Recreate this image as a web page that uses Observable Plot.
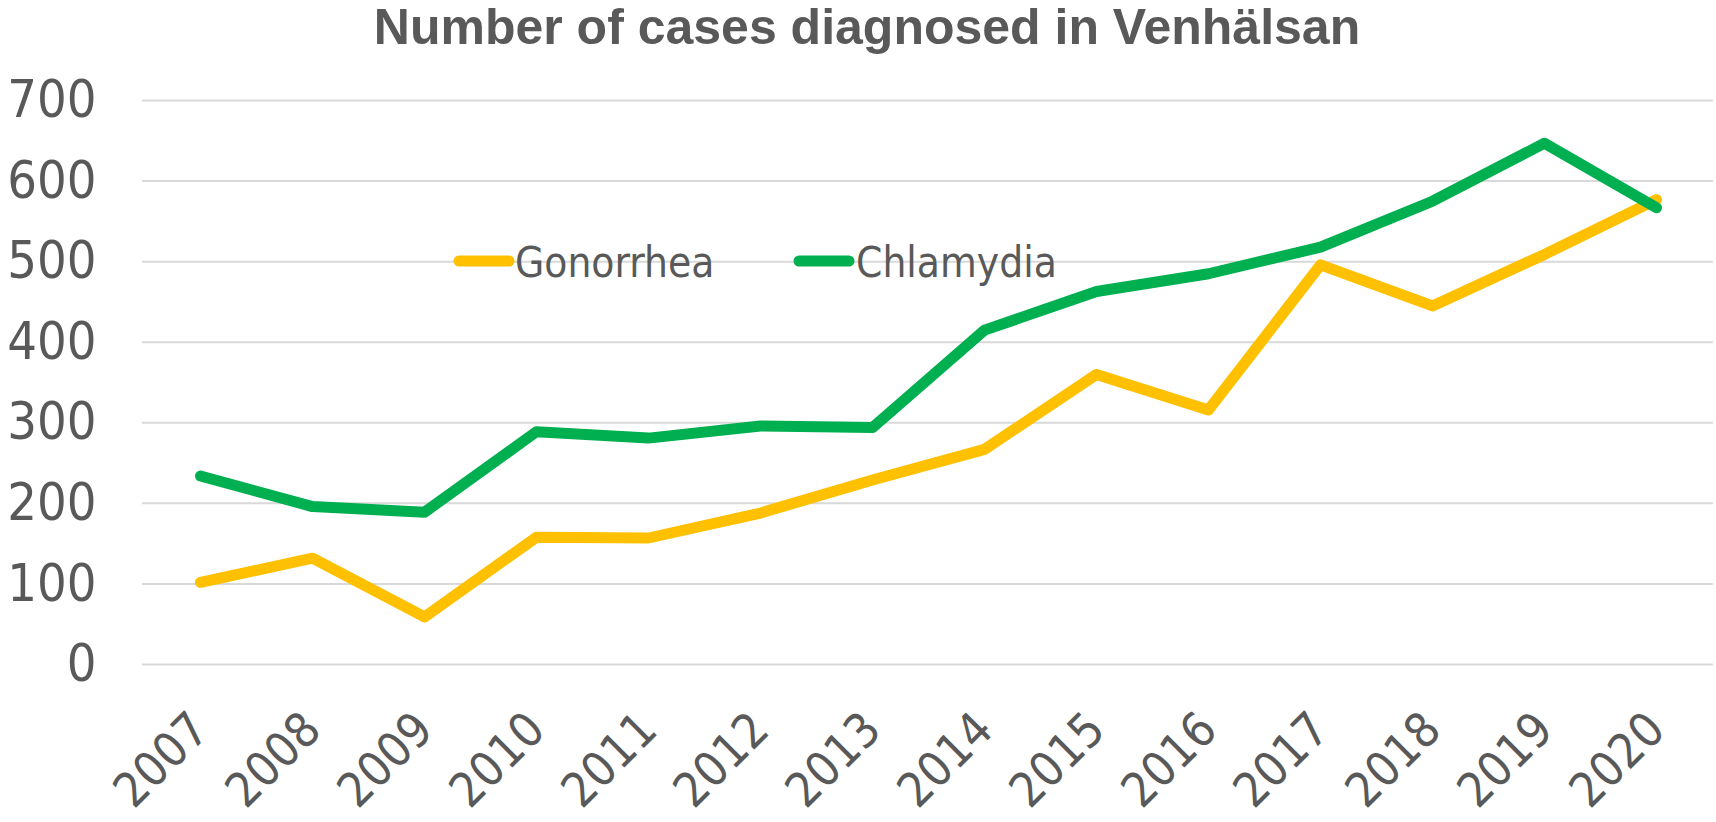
<!DOCTYPE html>
<html>
<head>
<meta charset="utf-8">
<script src="https://cdn.jsdelivr.net/npm/d3@7"></script>
<script src="https://cdn.jsdelivr.net/npm/@observablehq/plot@0.6"></script>
<style>
  html, body { margin: 0; padding: 0; background: #fff; }
  #chart { position: relative; width: 1716px; height: 822px; }
  svg text { font-stretch: condensed; }
</style>
</head>
<body>
<div id="chart"></div>
<script>
const title = "Number of cases diagnosed in Venhälsan";
const years = ["2007","2008","2009","2010","2011","2012","2013","2014","2015","2016","2017","2018","2019","2020"];
const gonorrhea = [102, 132, 59, 158, 157, 188, 229, 267, 360, 316, 496, 445, 509, 577];
const chlamydia = [234, 196, 189, 289, 281, 296, 294, 415, 463, 485, 518, 575, 647, 567];
const seriesNames = ["Gonorrhea", "Chlamydia"];
const seriesColors = ["#FFC000", "#00B050"];
const yTicks = [0, 100, 200, 300, 400, 500, 600, 700];

const rows = [];
years.forEach((y, i) => {
  rows.push({year: y, value: gonorrhea[i], series: seriesNames[0]});
  rows.push({year: y, value: chlamydia[i], series: seriesNames[1]});
});

const tickFont = "'DejaVu Sans Condensed', 'DejaVu Sans', sans-serif";

const plot = Plot.plot({
  width: 1716,
  height: 822,
  marginLeft: 142,
  marginRight: 3,
  marginTop: 100,
  marginBottom: 158,
  style: {fontFamily: tickFont, color: "#595959", background: "#fff"},
  x: {type: "point", domain: years, padding: 0.5, label: null},
  y: {domain: [0, 700], ticks: yTicks, label: null},
  color: {domain: seriesNames, range: seriesColors},
  marks: [
    Plot.gridY(yTicks, {stroke: "#D9D9D9", strokeOpacity: 1, strokeWidth: 2}),
    Plot.axisY(yTicks, {tickSize: 0, tickPadding: 46, fontSize: 52, fill: "#595959", label: null}),
    Plot.axisX({tickSize: 0, tickRotate: -45, tickPadding: 57, dx: 0, fontSize: 48, fill: "#595959", label: null}),
    Plot.line(rows, {x: "year", y: "value", z: "series", stroke: "series",
      strokeWidth: 11, strokeLinejoin: "round", strokeLinecap: "round"})
  ]
});
document.getElementById("chart").appendChild(plot);

const svg = d3.select(plot);
svg.append("text")
  .attr("x", 867).attr("y", 44)
  .attr("text-anchor", "middle")
  .attr("font-family", "'Liberation Sans', Arial, sans-serif")
  .attr("font-weight", "bold")
  .attr("font-size", 50)
  .style("font-stretch", "normal")
  .attr("fill", "#595959")
  .text(title);

const legendPos = [{x: 454, tx: 515}, {x: 794, tx: 856}];
seriesNames.forEach((name, i) => {
  const g = svg.append("g");
  g.append("line")
    .attr("x1", legendPos[i].x + 5).attr("x2", legendPos[i].x + 55)
    .attr("y1", 261).attr("y2", 261)
    .attr("stroke", seriesColors[i]).attr("stroke-width", 11)
    .attr("stroke-linecap", "round");
  g.append("text")
    .attr("x", legendPos[i].tx).attr("y", 277)
    .attr("text-anchor", "start")
    .attr("font-family", tickFont)
    .attr("font-size", 42)
    .attr("fill", "#595959")
    .text(name);
});
</script>
</body>
</html>
